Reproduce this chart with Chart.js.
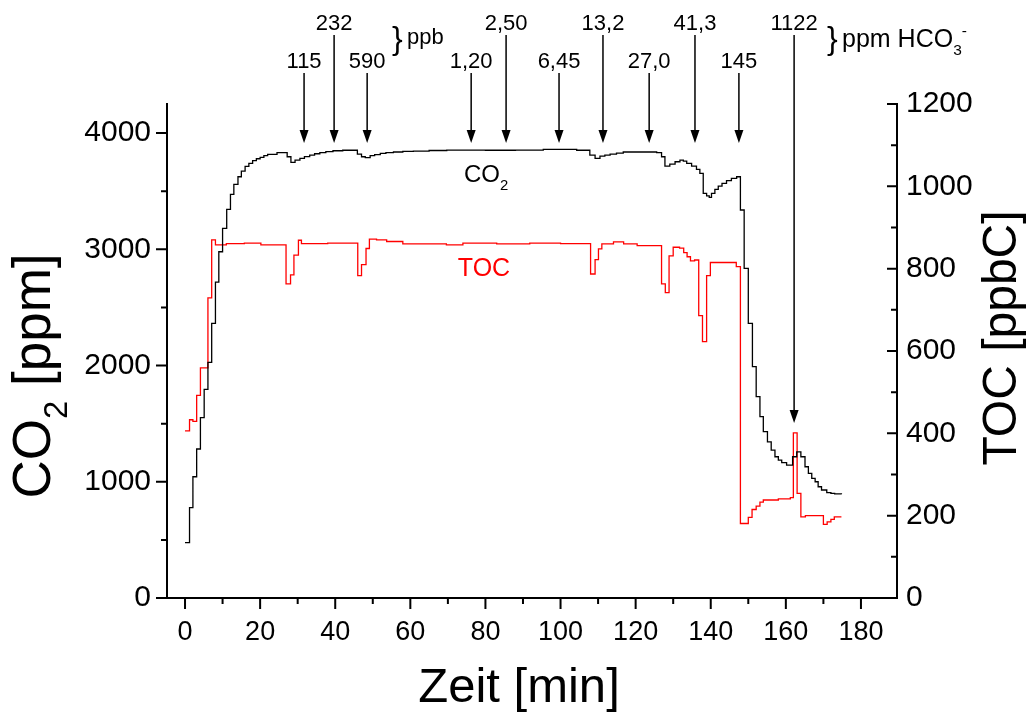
<!DOCTYPE html>
<html>
<head>
<meta charset="utf-8">
<script src="https://cdn.jsdelivr.net/npm/chart.js@4.4.1/dist/chart.umd.min.js"></script>
<style>
  html, body { margin: 0; padding: 0; background: #fff; }
  canvas { display: block; }
</style>
</head>
<body>
<canvas id="chart" width="1029" height="715"></canvas>
<script>
// CO2-Verlauf (Zeit in min, CO2 in ppm) - Stufen
const co2Zeit = [0, 1.2, 2.1, 3.1, 4.1, 5.1, 6.1, 7.1, 8.1, 9.0, 10.0, 11.1, 12.1, 13.0, 14.1, 15.0, 16.0, 17.0, 18.0, 19.0,
    20.0, 21.0, 22.0, 24.5, 27.2, 28.2, 29.3, 30.6, 31.8, 33.2, 34.5, 35.9, 37.5, 39.4, 42.0, 45.9, 47.0, 48.0, 49.3, 50.5,
    52.0, 53.5, 55.5, 58.0, 60.8, 65.0, 69.7, 80.0, 88.0, 95.4, 104.3, 107.8, 109.2, 110.5, 111.8, 113.2, 114.9, 116.7, 122.0, 125.6,
    126.9, 127.8, 129.1, 130.5, 131.8, 132.7, 133.6, 134.9, 136.2, 137.1, 138.0, 138.9, 139.6, 140.2, 141.1, 142.0, 143.0, 144.2, 145.5, 146.9,
    147.9, 148.9, 150.0, 151.1, 152.1, 153.1, 154.0, 155.1, 156.1, 157.1, 158.0, 158.9, 160.2, 161.8, 162.9, 164.0, 165.1, 166.0, 166.9, 167.8,
    168.6, 169.5, 170.9, 172.0, 173.0, 174.8];
const co2Werte = [476, 777, 1043, 1282, 1551, 1795, 2027, 2363, 2718, 2979, 3180, 3344, 3472, 3559, 3624, 3673, 3713, 3739, 3762, 3779,
    3791, 3805, 3817, 3831, 3796, 3748, 3768, 3782, 3797, 3811, 3822, 3831, 3840, 3848, 3852, 3819, 3796, 3788, 3805, 3815,
    3825, 3831, 3837, 3842, 3845, 3850, 3854, 3852, 3854, 3860, 3852, 3811, 3782, 3802, 3811, 3819, 3828, 3837, 3837, 3831,
    3796, 3716, 3733, 3753, 3768, 3759, 3739, 3716, 3688, 3654, 3481, 3460, 3447, 3481, 3515, 3544, 3567, 3590, 3610, 3624,
    3338, 2836, 2363, 1990, 1732, 1560, 1431, 1344, 1273, 1215, 1187, 1164, 1144, 1215, 1258, 1215, 1129, 1072, 1029, 1000,
    957, 929, 906, 900, 895, 892];

// TOC-Verlauf (Zeit in min, TOC in ppbC)
const tocZeit = [0, 1.2, 2.1, 3.1, 4.1, 6.1, 7.1, 8.1, 11.0, 15.8, 20.2, 26.9, 28.1, 29.0, 30.2, 31.0, 38.0, 46.0, 47.0, 48.2,
    49.1, 51.0, 53.7, 58.0, 69.6, 74.0, 83.0, 91.8, 100.0, 108.0, 109.2, 110.1, 111.0, 114.1, 116.8, 120.4, 126.9, 127.9, 128.9, 130.0,
    131.7, 132.8, 133.7, 134.6, 135.7, 136.8, 137.8, 138.9, 139.9, 146.8, 147.9, 150.0, 151.0, 152.1, 153.1, 154.0, 158.0, 161.2, 162.0, 163.0,
    164.0, 165.2, 170.0, 171.0, 172.0, 172.9, 174.8];
const tocWerte = [406, 433, 429, 492, 559, 729, 870, 858, 861, 862, 858, 763, 785, 833, 869, 861, 862, 783, 810, 849,
    872, 870, 866, 860, 858, 862, 860, 862, 861, 787, 822, 848, 860, 865, 860, 856, 763, 742, 831, 852,
    850, 839, 829, 819, 821, 686, 623, 783, 815, 805, 181, 196, 215, 223, 233, 238, 241, 244, 401, 254,
    197, 200, 179, 185, 191, 197, 197];

// Achsenbeschriftungen
const zeitTicks = [0, 20, 40, 60, 80, 100, 120, 140, 160, 180];
const co2Ticks = [0, 1000, 2000, 3000, 4000];
const tocTicks = [0, 200, 400, 600, 800, 1000, 1200];

// Zugaben (Pfeile oben): Zeitpunkt, Beschriftung, Reihe (0 = oben, 1 = unten)
const pfeilZeit = [31.7, 39.7, 48.5, 76.2, 85.5, 99.6, 111.3, 123.6, 135.8, 147.5, 162.2];
const pfeilText = ['115', '232', '590', '1,20', '2,50', '6,45', '13,2', '27,0', '41,3', '145', '1122'];
const pfeilReihe = [1, 0, 1, 1, 0, 1, 0, 1, 0, 1, 0];

const font = 'Liberation Sans, Arial, Helvetica, sans-serif';

function toPoints(xs, ys) {
    return xs.map((x, i) => ({ x: x, y: ys[i] }));
}

// Text mit Tief-/Hochstellung zeichnen, parts: [text, 'sub'|'sup'|'']
function drawParts(ctx, parts, size, x, y, align) {
    let widths = parts.map(p => {
        ctx.font = (p[1] ? size * 0.62 : size) + 'px ' + font;
        return ctx.measureText(p[0]).width;
    });
    let total = widths.reduce((a, b) => a + b, 0);
    let cx = align === 'center' ? x - total / 2 : x;
    ctx.textBaseline = 'alphabetic';
    ctx.textAlign = 'left';
    parts.forEach((p, i) => {
        let dy = 0;
        if (p[1] === 'sub') dy = size * 0.32;
        if (p[1] === 'sup') dy = -size * 0.45;
        ctx.font = (p[1] ? size * 0.62 : size) + 'px ' + font;
        ctx.fillText(p[0], cx, y + dy);
        cx += widths[i];
    });
}

const axisTicks = {
    id: 'axisTicks',
    afterDraw(chart) {
        const ctx = chart.ctx;
        const { x, y, y2 } = chart.scales;
        const area = chart.chartArea;
        ctx.save();
        ctx.strokeStyle = '#000';
        ctx.lineWidth = 2;
        ctx.beginPath();
        for (let v = 0; v <= 180; v += 10) {
            const px = x.getPixelForValue(v);
            ctx.moveTo(px, area.bottom);
            ctx.lineTo(px, area.bottom + (v % 20 === 0 ? 11 : 6));
        }
        for (let v = 0; v <= 4000; v += 500) {
            const py = y.getPixelForValue(v);
            ctx.moveTo(area.left, py);
            ctx.lineTo(area.left - (v % 1000 === 0 ? 11 : 6), py);
        }
        for (let v = 0; v <= 1200; v += 100) {
            const py = y2.getPixelForValue(v);
            ctx.moveTo(area.right, py);
            ctx.lineTo(area.right - (v % 200 === 0 ? 10 : 6), py);
        }
        ctx.stroke();
        ctx.restore();
    }
};

const beschriftung = {
    id: 'beschriftung',
    afterDraw(chart) {
        const ctx = chart.ctx;
        const { x, y2 } = chart.scales;
        const area = chart.chartArea;
        ctx.save();
        ctx.fillStyle = '#000';
        ctx.strokeStyle = '#000';

        // Pfeile
        pfeilZeit.forEach((t, i) => {
            const px = x.getPixelForValue(t);
            const top = pfeilReihe[i] === 0 ? 35 : 73;
            let tip = area.top + 39;
            if (pfeilText[i] === '1122') tip = y2.getPixelForValue(425);
            ctx.lineWidth = 1.5;
            ctx.beginPath();
            ctx.moveTo(px, top);
            ctx.lineTo(px, tip - 10);
            ctx.stroke();
            ctx.beginPath();
            ctx.moveTo(px - 4.5, tip - 13);
            ctx.lineTo(px + 4.5, tip - 13);
            ctx.lineTo(px, tip);
            ctx.closePath();
            ctx.fill();
            ctx.font = '22px ' + font;
            ctx.textAlign = 'center';
            ctx.textBaseline = 'alphabetic';
            ctx.fillText(pfeilText[i], px, pfeilReihe[i] === 0 ? 30 : 68);
        });

        // Klammern
        ctx.textAlign = 'left';
        ctx.font = '32px ' + font;
        ctx.fillText('}', 392, 49);
        ctx.font = '22px ' + font;
        ctx.fillText('ppb', 407, 44);
        ctx.font = '32px ' + font;
        ctx.fillText('}', 827, 49);
        drawParts(ctx, [['ppm HCO', ''], ['3', 'sub'], ['-', 'sup']], 25, 842, 47, 'left');

        // Kurvennamen
        drawParts(ctx, [['CO', ''], ['2', 'sub']], 24, 464, 182, 'left');
        ctx.fillStyle = '#ff0000';
        ctx.font = '25px ' + font;
        ctx.textAlign = 'center';
        ctx.fillText('TOC', 484, 276);

        // Achsentitel
        ctx.fillStyle = '#000';
        drawParts(ctx, [['Zeit [min]', '']], 49, 519, 702, 'center');
        ctx.save();
        ctx.translate(50, 376);
        ctx.rotate(-Math.PI / 2);
        drawParts(ctx, [['CO', ''], ['2', 'sub'], [' [ppm]', '']], 53, 0, 0, 'center');
        ctx.restore();
        ctx.save();
        ctx.translate(1016, 338);
        ctx.rotate(-Math.PI / 2);
        drawParts(ctx, [['TOC [ppbC]', '']], 48, 0, 0, 'center');
        ctx.restore();
        ctx.restore();
    }
};

function fixSize(w, h, tickValues) {
    return {
        fit: function (scale) {
            if (w !== null) scale.width = w;
            if (h !== null) scale.height = h;
            scale.paddingTop = 0;
            scale.paddingBottom = 0;
            scale.paddingLeft = 0;
            scale.paddingRight = 0;
        },
        ticks: function (scale) {
            scale.ticks = tickValues.map(v => ({ value: v }));
        }
    };
}

const xFix = fixSize(null, 117, zeitTicks);
const yFix = fixSize(167, null, co2Ticks);
const y2Fix = fixSize(132, null, tocTicks);

new Chart(document.getElementById('chart').getContext('2d'), {
    type: 'line',
    data: {
        datasets: [{
            label: 'CO2',
            data: toPoints(co2Zeit, co2Werte),
            yAxisID: 'y',
            borderColor: '#000000',
            borderWidth: 1.3,
            stepped: true,
            pointRadius: 0,
            fill: false
        }, {
            label: 'TOC',
            data: toPoints(tocZeit, tocWerte),
            yAxisID: 'y2',
            borderColor: '#ff0000',
            borderWidth: 1.3,
            stepped: true,
            pointRadius: 0,
            fill: false
        }]
    },
    options: {
        responsive: false,
        animation: false,
        devicePixelRatio: 1,
        layout: { padding: { top: 104, left: 0, right: 0, bottom: 0 } },
        plugins: {
            legend: { display: false },
            tooltip: { enabled: false }
        },
        scales: {
            x: {
                type: 'linear',
                min: -4.8,
                max: 189.6,
                grid: { display: false, drawTicks: false },
                border: { display: true, color: '#000', width: 2 },
                ticks: {
                    color: '#000',
                    padding: 18,
                    maxRotation: 0,
                    autoSkip: false,
                    font: { family: font, size: 27 },
                    callback: v => String(v)
                },
                afterBuildTicks: xFix.ticks,
                afterFit: xFix.fit
            },
            y: {
                position: 'left',
                min: 0,
                max: 4250,
                grid: { display: false, drawTicks: false },
                border: { display: true, color: '#000', width: 2 },
                ticks: {
                    color: '#000',
                    padding: 16,
                    autoSkip: false,
                    font: { family: font, size: 30 },
                    callback: v => String(v)
                },
                afterBuildTicks: yFix.ticks,
                afterFit: yFix.fit
            },
            y2: {
                position: 'right',
                min: 0,
                max: 1200,
                grid: { display: false, drawTicks: false },
                border: { display: true, color: '#000', width: 2 },
                ticks: {
                    color: '#000',
                    padding: 9,
                    autoSkip: false,
                    font: { family: font, size: 30 },
                    callback: v => String(v)
                },
                afterBuildTicks: y2Fix.ticks,
                afterFit: y2Fix.fit
            }
        }
    },
    plugins: [axisTicks, beschriftung]
});
</script>
</body>
</html>
